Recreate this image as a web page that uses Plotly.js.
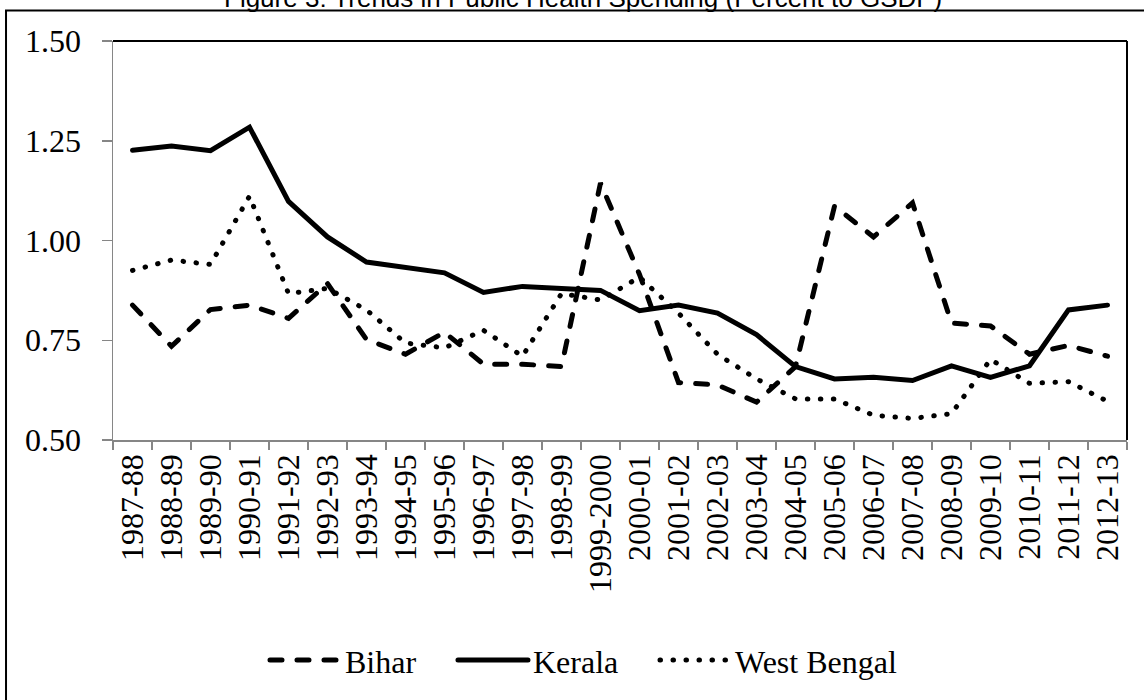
<!DOCTYPE html>
<html>
<head>
<meta charset="utf-8">
<script src="https://cdn.plot.ly/plotly-3.0.1.min.js"></script>
<style>
  html, body { margin: 0; padding: 0; background: #fff; }
  #chart { width: 1144px; height: 700px; }
  /* rounded ends so the dash/dot styles look like the original */
  .js-line { stroke-linecap: round !important; }
</style>
</head>
<body>
<div id="chart"></div>
<script>
// ── data ────────────────────────────────────────────────
const years = ['1987-88', '1988-89', '1989-90', '1990-91', '1991-92', '1992-93', '1993-94',
  '1994-95', '1995-96', '1996-97', '1997-98', '1998-99', '1999-2000', '2000-01', '2001-02',
  '2002-03', '2003-04', '2004-05', '2005-06', '2006-07', '2007-08', '2008-09', '2009-10',
  '2010-11', '2011-12', '2012-13'];

const bihar = [0.838, 0.735, 0.827, 0.838, 0.805, 0.892, 0.752, 0.715, 0.770, 0.690, 0.690,
  0.684, 1.144, 0.915, 0.644, 0.638, 0.595, 0.684, 1.086, 1.009, 1.094, 0.793, 0.786, 0.715,
  0.737, 0.710];

const kerala = [1.226, 1.237, 1.225, 1.284, 1.098, 1.009, 0.946, 0.933, 0.919, 0.870, 0.885,
  0.880, 0.875, 0.824, 0.838, 0.818, 0.764, 0.684, 0.653, 0.657, 0.649, 0.686, 0.657, 0.686,
  0.826, 0.838];

const westBengal = [0.925, 0.951, 0.940, 1.111, 0.867, 0.880, 0.826, 0.743, 0.731, 0.775, 0.710,
  0.867, 0.851, 0.908, 0.818, 0.715, 0.653, 0.603, 0.603, 0.562, 0.554, 0.566, 0.702, 0.642,
  0.646, 0.597];

const yTicks = [0.5, 0.75, 1.0, 1.25, 1.5];

// ── chart ───────────────────────────────────────────────
const SERIF = '"Liberation Serif", "Times New Roman", serif';
const AXIS_GREY = '#868686';

const traces = [
  { x: years, y: bihar, name: 'Bihar', mode: 'lines', legendwidth: 103,
    line: { color: '#000', width: 5, dash: '12px,15px' } },
  { x: years, y: kerala, name: 'Kerala', mode: 'lines', legendwidth: 117,
    line: { color: '#000', width: 5 } },
  { x: years, y: westBengal, name: 'West Bengal', mode: 'lines',
    line: { color: '#000', width: 5, dash: '0.5px,12.5px' } }
];

const layout = {
  width: 1144, height: 700,
  margin: { l: 113, r: 17, t: 41, b: 255 },
  paper_bgcolor: '#fff', plot_bgcolor: '#fff',
  showlegend: true,
  font: { family: SERIF, size: 32, color: '#000' },
  // title sits half above the top edge, as in the source image
  annotations: [{
    text: 'Figure 3: Trends in Public Health Spending (Percent to GSDP)',
    xref: 'paper', yref: 'paper', x: 0.4635, y: 1.109, xanchor: 'center', yanchor: 'middle',
    showarrow: false, font: { family: '"Liberation Sans", Arial, sans-serif', size: 26, color: '#000' }
  }],
  xaxis: {
    type: 'category', range: [-0.5, 25.5], fixedrange: true,
    showline: true, linecolor: AXIS_GREY, linewidth: 1.5,
    showgrid: false, zeroline: false,
    ticks: 'outside', tickson: 'boundaries', ticklen: 8, tickcolor: AXIS_GREY, tickwidth: 1.5,
    tickangle: -90, tickfont: { family: SERIF, size: 32, color: '#000' }
  },
  yaxis: {
    range: [0.5, 1.5], fixedrange: true,
    tickvals: yTicks, tickformat: '.2f',
    showline: true, linecolor: AXIS_GREY, linewidth: 1.5,
    showgrid: false, zeroline: false,
    ticks: 'outside', ticklen: 10, tickcolor: AXIS_GREY, tickwidth: 1.5,
    ticklabelstandoff: 14,
    tickfont: { family: SERIF, size: 32, color: '#000' }
  },
  legend: {
    orientation: 'h', x: 0.1499, y: -0.552, xanchor: 'left', yanchor: 'middle',
    itemwidth: 70, font: { family: SERIF, size: 32, color: '#000' },
    bgcolor: 'rgba(0,0,0,0)'
  },
  shapes: [
    // plot-area border (top + right), the grey axes cover left/bottom
    { type: 'line', xref: 'paper', yref: 'paper', x0: 0, x1: 1, y0: 1, y1: 1,
      line: { color: '#000', width: 2 }, layer: 'below' },
    { type: 'line', xref: 'paper', yref: 'paper', x0: 1, x1: 1, y0: 0, y1: 1,
      line: { color: '#000', width: 2 }, layer: 'below' },
    // outer chart frame
    { type: 'rect', xref: 'paper', yref: 'paper', x0: -0.1055, x1: 1.04, y0: -0.8, y1: 1.0767,
      line: { color: '#000', width: 2 }, fillcolor: 'rgba(0,0,0,0)', layer: 'below' }
  ]
};

Plotly.newPlot('chart', traces, layout, { staticPlot: true, displayModeBar: false });
</script>
</body>
</html>
